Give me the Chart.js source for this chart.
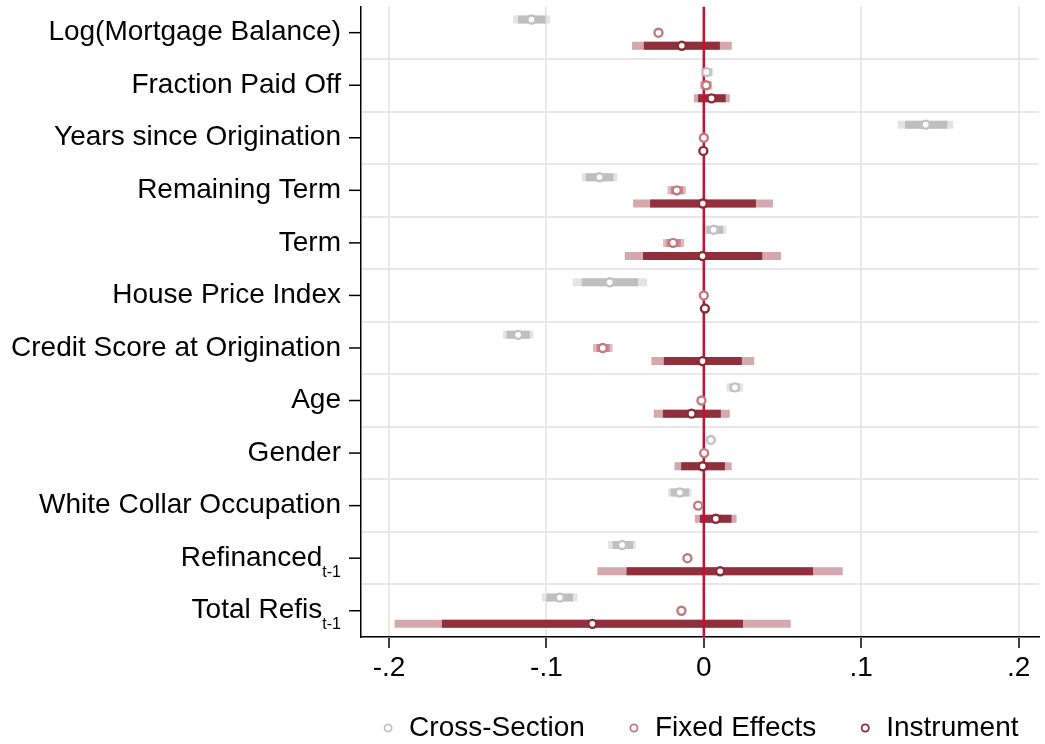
<!DOCTYPE html>
<html>
<head>
<meta charset="utf-8">
<script src="https://cdn.jsdelivr.net/npm/chart.js@4.4.1/dist/chart.umd.min.js"></script>
<style>
  html, body { margin: 0; padding: 0; background: #fff; }
</style>
</head>
<body>
<canvas id="grafico" width="1045" height="744"></canvas>
<script>
// Categorias (de arriba hacia abajo) y subindices de las etiquetas
const categorias = ["Log(Mortgage Balance)", "Fraction Paid Off", "Years since Origination", "Remaining Term",
    "Term", "House Price Index", "Credit Score at Origination", "Age", "Gender",
    "White Collar Occupation", "Refinanced", "Total Refis"];
const subindices = ["", "", "", "", "", "", "", "", "", "", "t-1", "t-1"];

// Eje X
const valoresEjeX = [-0.2, -0.1, 0, 0.1, 0.2];
const etiquetasEjeX = ["-.2", "-.1", "0", ".1", ".2"];

// Cross-Section: estimacion e intervalos (interno y externo)
const csEst = [-0.1095, 0.0017, 0.1410, -0.0663, 0.0062, -0.0598, -0.1180, 0.0197, 0.0045, -0.0153, -0.0519, -0.0915];
const csIntLo = [-0.1180, -0.0006, 0.1278, -0.0750, 0.0017, -0.0776, -0.1254, 0.0165, 0.0032, -0.0210, -0.0580, -0.1000];
const csIntHi = [-0.1004, 0.0049, 0.1547, -0.0574, 0.0123, -0.0418, -0.1106, 0.0229, 0.0058, -0.0093, -0.0449, -0.0831];
const csExtLo = [-0.1212, -0.0020, 0.1231, -0.0776, -0.0010, -0.0833, -0.1276, 0.0144, 0.0027, -0.0227, -0.0608, -0.1028];
const csExtHi = [-0.0975, 0.0060, 0.1585, -0.0549, 0.0144, -0.0360, -0.1083, 0.0250, 0.0063, -0.0078, -0.0432, -0.0803];

// Fixed Effects
const feEst = [-0.0288, 0.0015, 0.0000, -0.0172, -0.0195, 0.0000, -0.0642, -0.0015, 0.0002, -0.0036, -0.0104, -0.0142];
const feIntLo = [-0.0305, -0.0012, -0.0008, -0.0210, -0.0237, -0.0008, -0.0682, -0.0025, -0.0008, -0.0048, -0.0118, -0.0156];
const feIntHi = [-0.0271, 0.0042, 0.0008, -0.0131, -0.0146, 0.0008, -0.0598, -0.0005, 0.0012, -0.0024, -0.0090, -0.0128];
const feExtLo = [-0.0312, -0.0024, -0.0012, -0.0231, -0.0259, -0.0012, -0.0704, -0.0030, -0.0012, -0.0053, -0.0124, -0.0162];
const feExtHi = [-0.0264, 0.0053, 0.0012, -0.0114, -0.0125, 0.0012, -0.0580, 0.0000, 0.0016, -0.0019, -0.0084, -0.0122];

// Instrument
const ivEst = [-0.0140, 0.0049, -0.0003, -0.0006, -0.0008, 0.0007, -0.0008, -0.0078, -0.0007, 0.0076, 0.0104, -0.0708];
const ivIntLo = [-0.0381, -0.0036, -0.0010, -0.0341, -0.0386, -0.0003, -0.0254, -0.0260, -0.0144, -0.0025, -0.0491, -0.1664];
const ivIntHi = [0.0102, 0.0139, 0.0004, 0.0331, 0.0371, 0.0017, 0.0242, 0.0108, 0.0134, 0.0176, 0.0694, 0.0249];
const ivExtLo = [-0.0456, -0.0063, -0.0014, -0.0449, -0.0502, -0.0007, -0.0333, -0.0318, -0.0186, -0.0057, -0.0676, -0.1964];
const ivExtHi = [0.0178, 0.0165, 0.0008, 0.0439, 0.0490, 0.0021, 0.0320, 0.0165, 0.0177, 0.0208, 0.0883, 0.0552];

const FUENTE = '"Liberation Sans", Arial, sans-serif';
Chart.defaults.font.family = FUENTE;
Chart.defaults.font.size = 28;
Chart.defaults.color = "#000";

// Cada serie va desplazada un poco dentro de su fila
const series = [
    { nombre: "Cross-Section", desp: -0.25, est: csEst, iLo: csIntLo, iHi: csIntHi, eLo: csExtLo, eHi: csExtHi,
      punto: "#c2c2c2", interno: "#bfbfbf", externo: "#e4e4e4" },
    { nombre: "Fixed Effects", desp: 0, est: feEst, iLo: feIntLo, iHi: feIntHi, eLo: feExtLo, eHi: feExtHi,
      punto: "#c07a80", interno: "#c98a90", externo: "#e2babd" },
    { nombre: "Instrument", desp: 0.25, est: ivEst, iLo: ivIntLo, iHi: ivIntHi, eLo: ivExtLo, eHi: ivExtHi,
      punto: "#8c2b38", interno: "#8f303c", externo: "#d4a8ac" }
];

let datasets = [];
series.forEach(s => {
    datasets.push({
        type: "bar", indexAxis: "y", grouped: false, maxBarThickness: 8, order: 6,
        backgroundColor: s.externo, borderWidth: 0,
        data: s.eLo.map((lo, i) => ({ x: [lo, s.eHi[i]], y: i + s.desp }))
    });
    datasets.push({
        type: "bar", indexAxis: "y", grouped: false, maxBarThickness: 8, order: 5,
        backgroundColor: s.interno, borderWidth: 0,
        data: s.iLo.map((lo, i) => ({ x: [lo, s.iHi[i]], y: i + s.desp }))
    });
});

// Linea vertical en cero
datasets.push({
    type: "line", order: 3, borderColor: "#c8102e", borderWidth: 2.5, pointRadius: 0,
    data: [{ x: 0, y: -0.5 }, { x: 0, y: 11.5 }]
});

series.forEach(s => {
    datasets.push({
        type: "scatter", label: s.nombre, order: 1,
        backgroundColor: "#fff", borderColor: s.punto, borderWidth: 2.4, pointRadius: 4,
        data: s.est.map((v, i) => ({ x: v, y: i + s.desp }))
    });
});

// Etiquetas del eje Y (con subindice) y sus marcas
const etiquetasEjeY = {
    id: "etiquetasEjeY",
    afterDraw(chart) {
        const ctx = chart.ctx;
        const ejeY = chart.scales.y;
        const izq = chart.chartArea.left;
        ctx.save();
        ctx.strokeStyle = "#000";
        ctx.lineWidth = 1.5;
        ctx.fillStyle = "#000";
        ctx.textBaseline = "middle";
        categorias.forEach((txt, i) => {
            const py = ejeY.getPixelForValue(i);
            ctx.beginPath();
            ctx.moveTo(izq - 12, py);
            ctx.lineTo(izq, py);
            ctx.stroke();
            let xd = izq - 20;
            if (subindices[i]) {
                ctx.font = "16px " + FUENTE;
                ctx.textAlign = "left";
                xd -= ctx.measureText(subindices[i]).width;
                ctx.fillText(subindices[i], xd, py + 14);
            }
            ctx.font = "28px " + FUENTE;
            ctx.textAlign = "right";
            ctx.fillText(txt, xd, py);
        });
        ctx.restore();
    }
};

// Leyenda centrada bajo el area del grafico
const leyenda = {
    id: "leyenda",
    afterDraw(chart) {
        const ctx = chart.ctx;
        const area = chart.chartArea;
        const hueco = 42, caja = 14;
        ctx.save();
        ctx.font = "28px " + FUENTE;
        const anchos = series.map(s => caja + 14 + ctx.measureText(s.nombre).width);
        const total = anchos.reduce((a, b) => a + b, 0) + hueco * (series.length - 1);
        let x = (area.left + area.right) / 2 - total / 2;
        const y = 728;
        ctx.textBaseline = "middle";
        ctx.textAlign = "left";
        series.forEach((s, i) => {
            ctx.beginPath();
            ctx.arc(x + caja / 2, y, 3.6, 0, Math.PI * 2);
            ctx.fillStyle = "#fff";
            ctx.fill();
            ctx.lineWidth = 1.8;
            ctx.strokeStyle = s.punto;
            ctx.stroke();
            ctx.fillStyle = "#000";
            ctx.fillText(s.nombre, x + caja + 14, y);
            x += anchos[i] + hueco;
        });
        ctx.restore();
    }
};

new Chart(document.getElementById("grafico"), {
    type: "bar",
    data: { datasets: datasets },
    plugins: [etiquetasEjeY, leyenda],
    options: {
        responsive: false,
        animation: false,
        layout: { padding: { top: 4, left: 355, right: 0, bottom: 57 } },
        scales: {
            x: {
                type: "linear", min: -0.2178, max: 0.2127, offset: false,
                afterBuildTicks: eje => { eje.ticks = valoresEjeX.map(v => ({ value: v })); },
                afterFit: eje => { eje.height = 50; },
                ticks: { callback: (v, i) => etiquetasEjeX[i], padding: 3, maxRotation: 0, autoSkip: false },
                grid: { offset: false, color: "#e8e8e8", lineWidth: 2, tickColor: "#000", tickLength: 11, tickWidth: 1.5 },
                border: { color: "#000", width: 1.5 }
            },
            y: {
                type: "linear", min: -0.5, max: 11.5, reverse: true, offset: false,
                afterBuildTicks: eje => { eje.ticks = categorias.map((c, i) => ({ value: i })); },
                afterFit: eje => { eje.width = 6; },
                ticks: { display: false },
                grid: {
                    offset: true, drawTicks: false, lineWidth: 2,
                    color: c => c.index === 0 ? "rgba(0,0,0,0)" : "#e8e8e8"
                },
                border: { color: "#000", width: 1.5 }
            }
        },
        plugins: {
            tooltip: { enabled: false },
            legend: { display: false }
        }
    }
});
</script>
</body>
</html>
